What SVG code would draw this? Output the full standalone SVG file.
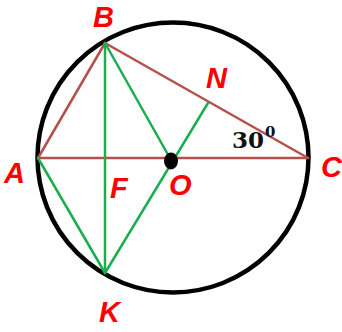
<svg xmlns="http://www.w3.org/2000/svg" width="342" height="332" viewBox="0 0 342 332">
<style>
.brown{stroke:#b5514a;stroke-width:2.5;fill:none;stroke-linecap:round}
.green{stroke:#1aae4e;stroke-width:2.5;fill:none;stroke-linecap:round}
.lbl{font-family:"Liberation Sans",Arial,sans-serif;font-weight:bold;font-style:italic;font-size:29px;fill:#ff0000}
.num{font-family:"DejaVu Serif","Liberation Serif",serif;font-weight:bold;fill:#111}
</style>
<rect width="342" height="332" fill="#fff"/>
<g id="circle"><ellipse cx="173" cy="157.5" rx="135.5" ry="135" fill="none" stroke="#000" stroke-width="4.5"/></g>
<g id="connectors">
<line class="brown" x1="38" y1="158" x2="308" y2="158"/>
<line class="brown" x1="38" y1="158" x2="105" y2="43"/>
<line class="brown" x1="105" y1="43" x2="308" y2="158"/>
<line class="green" x1="105" y1="43" x2="105" y2="273"/>
<line class="green" x1="105" y1="43" x2="171" y2="160"/>
<line class="green" x1="38" y1="158" x2="105" y2="273"/>
<line class="green" x1="105" y1="273" x2="208" y2="103"/>
</g>
<g id="O"><ellipse cx="171" cy="161" rx="7" ry="8.5" fill="#000"/><text class="lbl" x="169" y="195">O</text></g>
<g id="A"><text class="lbl" x="4" y="183">A</text></g>
<g id="B"><text class="lbl" x="93" y="27">B</text></g>
<g id="C"><text class="lbl" x="321" y="177">C</text></g>
<g id="N"><text class="lbl" x="206" y="88">N</text></g>
<g id="F"><text class="lbl" x="110" y="198">F</text></g>
<g id="K"><text class="lbl" x="99" y="322">K</text></g>
<g id="angle"><text class="num" x="232" y="148" font-size="23">30</text><text class="num" x="265" y="137" font-size="15">0</text></g>
</svg>
